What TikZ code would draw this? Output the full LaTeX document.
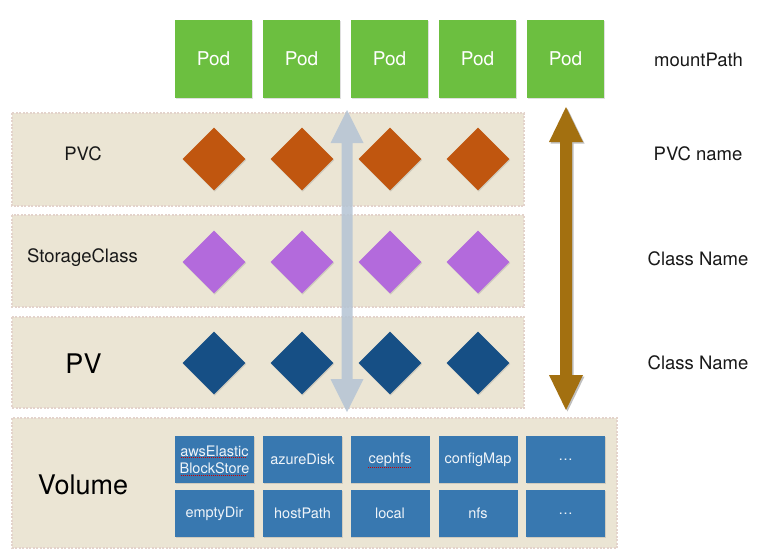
\documentclass[tikz,border=0pt]{standalone}
\usepackage{fontspec}
\setmainfont{TeX Gyre Heros}
\usetikzlibrary{shapes.geometric,shadows}
\definecolor{podgreen}{HTML}{6CBF40}
\definecolor{bandfill}{HTML}{EBE5D4}
\definecolor{bandedge}{HTML}{E3D3CB}
\definecolor{pvcorange}{HTML}{C0560F}
\definecolor{scpurple}{HTML}{B36ADC}
\definecolor{pvblue}{HTML}{164F85}
\definecolor{volblue}{HTML}{3878B0}
\definecolor{arrblue}{HTML}{B4C4D4}
\definecolor{arrbrown}{HTML}{A37010}
\begin{document}
\begin{tikzpicture}[x=1pt,y=-1pt,
  band/.style={draw=bandedge, fill=bandfill, line width=2.5pt, dash pattern=on 2pt off 1.5pt},
  pod/.style={fill=podgreen, minimum width=77pt, minimum height=78pt, inner sep=0pt,
    text=white, font=\fontsize{19}{22}\selectfont, drop shadow={opacity=0.25, shadow xshift=0.8pt, shadow yshift=-1.2pt}},
  dia/.style={diamond, aspect=1, minimum width=63pt, minimum height=63pt, inner sep=0pt,
    drop shadow={opacity=0.25, shadow xshift=0.8pt, shadow yshift=-1.2pt}},
  vol/.style={fill=volblue, minimum width=79pt, minimum height=47pt, inner sep=0pt,
    text=white!92!volblue, font=\fontsize{14.5}{17}\selectfont, align=center,
    drop shadow={opacity=0.25, shadow xshift=0.8pt, shadow yshift=-1.2pt}},
  lbl/.style={text=black!90, font=\fontsize{18.5}{22}\selectfont},
  biglbl/.style={text=black, font=\fontsize{27}{32}\selectfont},
  squig/.style={draw=red!80!black, line width=0.9pt, dash pattern=on 1pt off 1pt}
]
\useasboundingbox (0,0) rectangle (769,555);
\fill[white] (0,0) rectangle (769,555);

% bands
\path[band] (12,113) rectangle (524,206) coordinate (bandpvc);
\path[band] (12,215) rectangle (524,307) coordinate (bandsc);
\path[band] (12,317) rectangle (524,408) coordinate (bandpv);
\path[band] (12,418) rectangle (617,548) coordinate (bandvol);

% band labels
\node[lbl] (lpvc) at (83,154) {PVC};
\node[lbl] (lsc) at (82.5,258) {StorageClass};
\node[biglbl] (lpv) at (83.5,364) {PV};
\node[biglbl] (lvol) at (83,485) {Volume};

% pods
\foreach \i/\x in {1/213.5,2/301.5,3/389.5,4/477.5,5/565.5}
  \node[pod] (pod\i) at (\x,59) {Pod};

% diamonds
\foreach \i/\x in {1/214,2/302,3/390,4/478}{
  \node[dia, fill=pvcorange] (pvc\i) at (\x,159) {};
  \node[dia, fill=scpurple] (sc\i) at (\x,262) {};
  \node[dia, fill=pvblue] (pv\i) at (\x,363) {};
}

% volume boxes
\node[vol] (v1) at (214.5,459.5) {awsElastic\\BlockStore};
\node[vol] (v2) at (302.5,459.5) {azureDisk};
\node[vol] (v3) at (390,459.5) {cephfs};
\node[vol] (v4) at (478,459.5) {configMap};
\node[vol] (v5) at (565.5,459.5) {\dots};
\node[vol] (v6) at (214.5,513.5) {emptyDir};
\node[vol] (v7) at (302.5,513.5) {hostPath};
\node[vol] (v8) at (390,513.5) {local};
\node[vol] (v9) at (478,513.5) {nfs};
\node[vol] (v10) at (565.5,513.5) {\dots};
% spell-check squiggles
\draw[squig] (181,457.5) -- (247,457.5);
\draw[squig] (181,475.5) -- (247,475.5);
\draw[squig] (368,467.5) -- (412,467.5);

% blue double arrow (semi transparent)
\coordinate (bt) at (347,110);
\coordinate (bb) at (347,412);
\fill[arrblue, opacity=0.85]
  (bt) -- (363.5,143) -- (352.5,143) -- (352.5,379) -- (363.5,379) -- (bb)
  -- (330.5,379) -- (341.5,379) -- (341.5,143) -- (330.5,143) -- cycle;

% brown double arrow
\coordinate (rt) at (566,107);
\coordinate (rb) at (566,410);
\fill[black, opacity=0.25]
  ([shift={(1.5,1.5)}]rt) -- (584.5,143.5) -- (573.5,143.5) -- (573.5,376.5) -- (584.5,376.5) -- ([shift={(1.5,1.5)}]rb)
  -- (550.5,376.5) -- (561.5,376.5) -- (561.5,143.5) -- (550.5,143.5) -- cycle;
\fill[arrbrown]
  (rt) -- (583,142) -- (572,142) -- (572,375) -- (583,375) -- (rb)
  -- (549,375) -- (560,375) -- (560,142) -- (549,142) -- cycle;

% right labels
\node[lbl] (rmp) at (698.5,60) {mountPath};
\node[lbl] (rpvc) at (698,154) {PVC name};
\node[lbl] (rcn1) at (698,259) {Class Name};
\node[lbl] (rcn2) at (698,363) {Class Name};
\end{tikzpicture}
\end{document}
